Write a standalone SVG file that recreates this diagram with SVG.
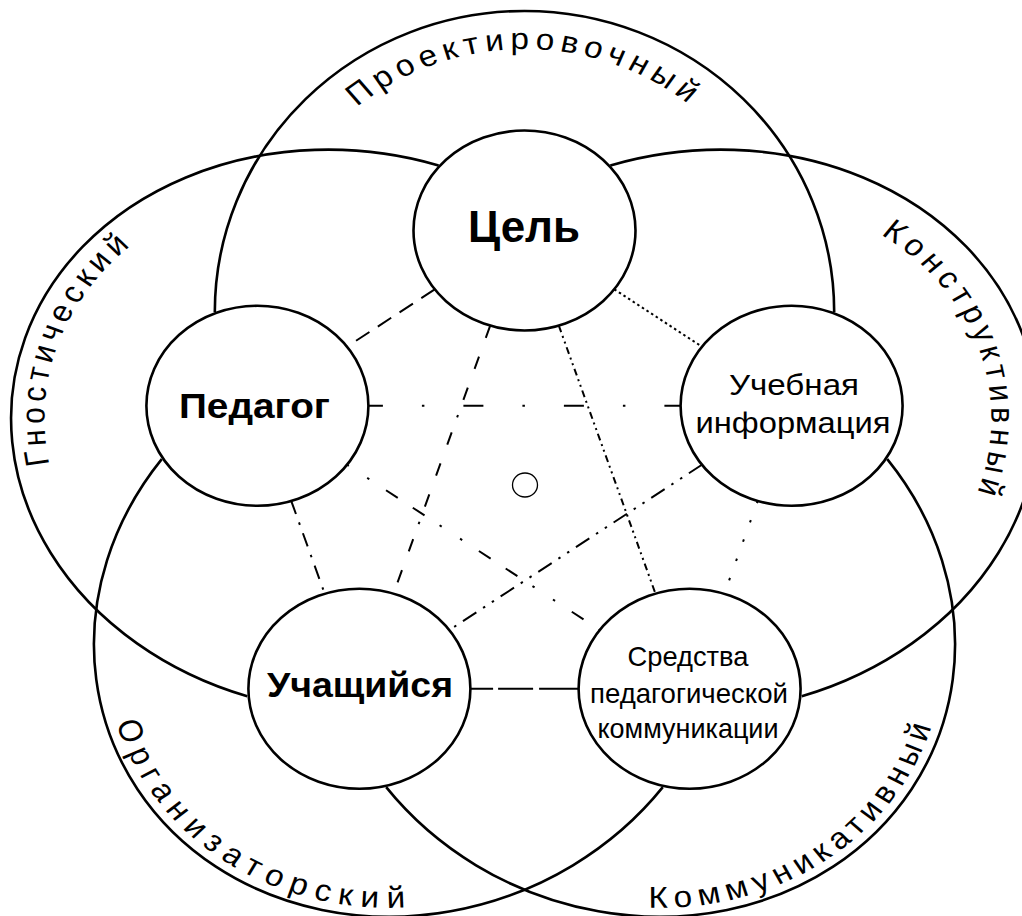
<svg xmlns="http://www.w3.org/2000/svg" width="1022" height="916" viewBox="0 0 1022 916">
<style>
.node{fill:#fff;stroke:#000;stroke-width:2.6}
.petal{fill:none;stroke:#000;stroke-width:2.6}
.lbl{font-family:"Liberation Sans",Arial,sans-serif;font-size:30px;fill:#000}
.bold{font-family:"Liberation Sans",Arial,sans-serif;font-weight:bold;fill:#000;text-anchor:middle}
.reg{font-family:"Liberation Sans",Arial,sans-serif;fill:#000;text-anchor:middle}
.c{fill:none;stroke:#000;stroke-width:2}
</style>
<defs>
<path id="tp-top" d="M-241,-172 A241,263 0 0 1 241,-172"/>
<path id="tp-kon" d="M-237,-172 A237,259 0 0 1 237,-172"/>
<path id="tp-gno" d="M-249,-172 A249,271 0 0 1 249,-172"/>
<path id="tp-in" d="M270,-172 A270,292 0 0 0 -270,-172"/>
</defs>
<rect width="1022" height="916" fill="#fff"/>
<g id="petals" transform="translate(524.5 484) scale(1.11 1)">
  <g id="petal-proektirovochny">
    <path class="petal" vector-effect="non-scaling-stroke" d="M-279,-172 A279,301 0 0 1 279,-172"/>
    <text class="lbl" letter-spacing="5.3"><textPath href="#tp-top" startOffset="50%" text-anchor="middle">Проектировочный</textPath></text>
  </g>
  <g id="petal-konstruktivny" transform="rotate(72)">
    <path class="petal" vector-effect="non-scaling-stroke" d="M-279,-172 A279,301 0 0 1 279,-172"/>
    <text class="lbl" letter-spacing="5.2"><textPath href="#tp-kon" startOffset="50%" text-anchor="middle">Конструктивный</textPath></text>
  </g>
  <g id="petal-kommunikativny" transform="rotate(144)">
    <path class="petal" vector-effect="non-scaling-stroke" d="M-279,-172 A279,301 0 0 1 279,-172"/>
    <text class="lbl" letter-spacing="5.8"><textPath href="#tp-in" startOffset="50%" text-anchor="middle">Коммуникативный</textPath></text>
  </g>
  <g id="petal-organizatorsky" transform="rotate(216)">
    <path class="petal" vector-effect="non-scaling-stroke" d="M-279,-172 A279,301 0 0 1 279,-172"/>
    <text class="lbl" letter-spacing="7.6"><textPath href="#tp-in" startOffset="50.8%" text-anchor="middle">Организаторский</textPath></text>
  </g>
  <g id="petal-gnostichesky" transform="rotate(288)">
    <path class="petal" vector-effect="non-scaling-stroke" d="M-279,-172 A279,301 0 0 1 279,-172"/>
    <text class="lbl" letter-spacing="4.9"><textPath href="#tp-gno" startOffset="50.5%" text-anchor="middle">Гностический</textPath></text>
  </g>
</g>
<g id="connectors">
  <path class="c" d="M434.7,289.3 L346.7,346.9" stroke-dasharray="16 10"/>
  <path class="c" d="M614.3,289.3 L702.3,346.9" stroke-dasharray="2.5 3"/>
  <path class="c" d="M367.9,405.8 L681.1,405.8" stroke-dasharray="20 39 2.5 39" stroke-dashoffset="5"/>
  <path class="c" d="M490.2,325.6 L393.4,594" stroke-dasharray="13 20 13 20 13 16 2.5 16"/>
  <path class="c" d="M558.8,325.6 L655.6,594" stroke-dasharray="7 4 2 4 2 4"/>
  <path class="c" d="M346.7,464.5 L600.1,630.3" stroke-dasharray="2.5 22 2.5 20 14 18 14 18"/>
  <path class="c" d="M291.2,500.8 L324.8,594" stroke-dasharray="14 9 2.5 9"/>
  <path class="c" d="M702.3,464.5 L448.9,630.3" stroke-dasharray="16 8 2.5 8 2.5 8"/>
  <path class="c" d="M757.8,500.8 L724.2,594" stroke-dasharray="2.5 18"/>
  <path class="c" d="M470.1,688.7 L578.9,688.7" stroke-width="4" stroke-dasharray="23 5 35 6 45"/>
</g>
<g id="node-tsel">
  <ellipse class="node" cx="524.5" cy="230.5" rx="111" ry="100"/>
  <text class="bold" x="524" y="242" font-size="44" textLength="112" lengthAdjust="spacingAndGlyphs">Цель</text>
</g>
<g id="node-uchebnaya-informatsiya">
  <ellipse class="node" cx="791.6" cy="405.8" rx="111" ry="100"/>
  <text class="reg" font-size="30"><tspan x="794" y="395" textLength="130" lengthAdjust="spacingAndGlyphs">Учебная</tspan><tspan x="793" y="433" textLength="195" lengthAdjust="spacingAndGlyphs">информация</tspan></text>
</g>
<g id="node-sredstva">
  <ellipse class="node" cx="689.6" cy="688.7" rx="111" ry="100"/>
  <text class="reg" font-size="28"><tspan x="688" y="666" textLength="121" lengthAdjust="spacingAndGlyphs">Средства</tspan><tspan x="689" y="703" textLength="198" lengthAdjust="spacingAndGlyphs">педагогической</tspan><tspan x="688" y="738" textLength="181" lengthAdjust="spacingAndGlyphs">коммуникации</tspan></text>
</g>
<g id="node-uchashchiysya">
  <ellipse class="node" cx="359.4" cy="688.7" rx="111" ry="100"/>
  <text class="bold" x="360" y="697" font-size="35" textLength="186" lengthAdjust="spacingAndGlyphs">Учащийся</text>
</g>
<g id="node-pedagog">
  <ellipse class="node" cx="257.4" cy="405.8" rx="111" ry="100"/>
  <text class="bold" x="254.5" y="418" font-size="35" textLength="151" lengthAdjust="spacingAndGlyphs">Педагог</text>
</g>
<g id="center">
  <ellipse cx="525" cy="485" rx="12.5" ry="12" fill="none" stroke="#000" stroke-width="1.3"/>
</g>
</svg>
